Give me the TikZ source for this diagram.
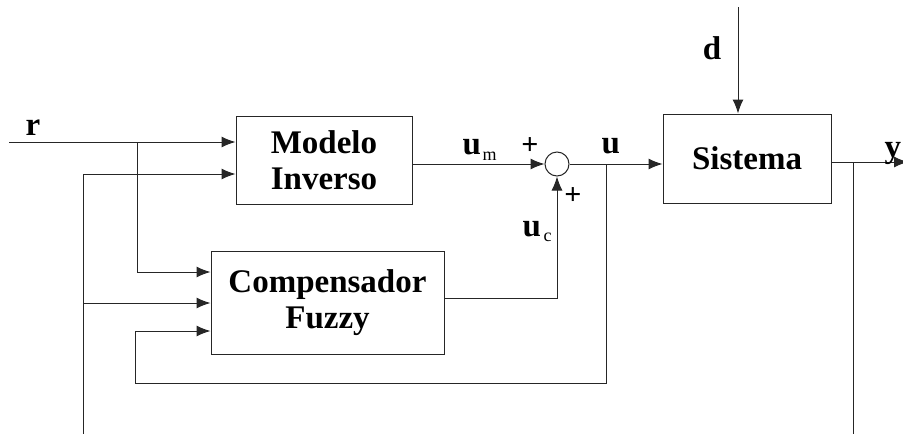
\documentclass[tikz,border=0pt]{standalone}
\usepackage{fontspec}
\setmainfont{Liberation Serif}
\usetikzlibrary{arrows.meta}
\begin{document}
\begin{tikzpicture}[x=1pt,y=-1pt,line width=1pt,
  lc/.style={draw=black!85},
  blk/.style={lc,rectangle,inner sep=0pt,align=center,font=\fontsize{33}{36}\selectfont\bfseries},
  arr/.style={lc,-{Latex[length=14pt,width=11pt]}},
  ln/.style={lc},
  lbl/.style={font=\fontsize{33}{36}\selectfont\bfseries,inner sep=0pt},
  pls/.style={font=\fontsize{30}{30}\selectfont\bfseries,inner sep=0pt},
  subs/.style={font=\fontsize{18}{18}\selectfont,inner sep=0pt}]
\useasboundingbox (0,0) rectangle (903,434);

% blocks
\node[blk,minimum width=176,minimum height=88] (mi) at (324,160) {Modelo\\Inverso};
\node[blk,minimum width=233,minimum height=103] (cf) at (327.5,302.5) {Compensador\\Fuzzy};
\node[blk,minimum width=168,minimum height=89] (sis) at (747,158.5) {Sistema};
\node[lc,circle,minimum size=24,inner sep=0pt] (sum) at (557,164) {};

% coordinates
\coordinate (rin) at (9,142);
\coordinate (r1) at (137,142);
\coordinate (r1b) at (137,272);
\coordinate (b1) at (83,434);
\coordinate (b1t) at (83,174);
\coordinate (b2) at (83,303);
\coordinate (fb) at (606,164);
\coordinate (fbb) at (606,383);
\coordinate (fbl) at (135,383);
\coordinate (fbi) at (135,331);
\coordinate (uc) at (557,298);
\coordinate (dtop) at (738,7);
\coordinate (ybr) at (853,162);
\coordinate (ybb) at (853,434);
\coordinate (yend) at (908,162);

% connectors
\draw[arr] (rin) -- (rin -| mi.west);
\draw[arr] (r1) -- (r1b) -- (cf.west |- r1b);
\draw[arr] (b1) -- (b1t) -- (mi.west |- b1t);
\draw[arr] (b2) -- (cf.west |- b2);
\draw[arr] (fb) -- (fbb) -- (fbl) -- (fbi) -- (cf.west |- fbi);
\draw[arr] (mi.east |- sum) -- (sum.west);
\draw[arr] (cf.east |- uc) -- (uc) -- (sum.south);
\draw[arr] (sum.east) -- (sis.west |- sum);
\draw[arr] (dtop) -- (sis.north -| dtop);
\draw[arr] (sis.east |- ybr) -- (yend);
\draw[ln] (ybr) -- (ybb);

% labels
\node[lbl] (lr) at (33,128) {r};
\node[lbl] (ld) at (712,48.5) {d};
\node[lbl,anchor=base west] (ly) at (884,157) {y};
\node[lbl,anchor=base west] (lu) at (601,153) {u};
\node[lbl,anchor=base west] (lum) at (462,154) {u};
\node[subs,anchor=base west] (lums) at (482,160) {m};
\node[lbl,anchor=base west] (luc) at (522,236) {u};
\node[subs,anchor=base west] (lucs) at (543,241) {c};
\node[pls] (p1) at (530,146) {+};
\node[pls] (p2) at (573,196) {+};
\end{tikzpicture}
\end{document}
